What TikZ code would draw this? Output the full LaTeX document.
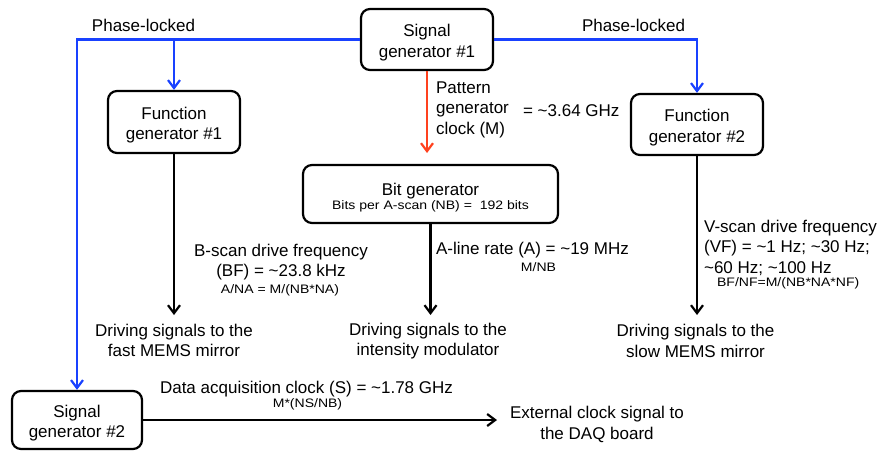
\documentclass[tikz,border=0pt]{standalone}
\usepackage{fontspec}
\setmainfont{Liberation Sans}
\newfontfamily\smallfont[FakeStretch=1.14]{Liberation Sans}
\usetikzlibrary{arrows.meta}
\newcommand{\apx}{\textasciitilde}
\newcommand{\lift}[1]{\rule{0pt}{#1pt}}
\definecolor{lockblue}{RGB}{25,65,255}
\definecolor{clockred}{RGB}{255,65,30}
\tikzset{
  box/.style={draw, rounded corners=9pt, align=center, inner sep=0pt},
  sml/.style={font=\smallfont\fontsize{12.3}{13.5}\selectfont}
}

\begin{document}
\begin{tikzpicture}[-{Straight Barb[length=8pt,width=12pt]}, x=1pt, y=-1pt, line width=2.2pt,
    inner sep=0pt, font=\fontsize{17}{20.5}\selectfont]
			\useasboundingbox (0,0) rectangle (881,450);
			\node (1) [box, minimum width=132, minimum height=61] at (427,39.5) {\lift{19}Signal\\generator \#1};
			\node (2) [box, minimum width=132, minimum height=62] at (174,122) {\lift{19}Function\\generator \#1};
			\node (3) [box, minimum width=132, minimum height=61] at (697,124.5) {\lift{19}Function\\generator \#2};
			\node (4) [box, minimum width=255, minimum height=58] at (430.5,194) {\lift{20}Bit generator\\[-6pt]{\smallfont\fontsize{12.3}{13.5}\selectfont Bits per A-scan (NB) = \ 192 bits}};
			\node (5) [box, minimum width=130, minimum height=58] at (77,420) {\lift{19}Signal\\generator \#2};

			\node (6) at (143.5,25) {Phase-locked};
			\node (7) at (633.5,25) {Phase-locked};
			\node (8) [anchor=west, align=left] at (435,109.5) {Pattern\\generator\\clock (M)};
			\node (9) [anchor=west] at (522,111) {= \apx3.64 GHz};
			\node (10) [align=center] at (281,262) {B-scan drive frequency\\(BF) = \apx23.8 kHz};
			\node (11) [sml] at (280,290) {A/NA = M/(NB*NA)};
			\node (12) [anchor=west] at (435,250) {A-line rate (A) = \apx19 MHz};
			\node (13) [sml] at (538.5,267) {M/NB};
			\node (14) [anchor=west, align=left] at (703,247.5) {V-scan drive frequency\\(VF) = \apx1 Hz; \apx30 Hz;\\\apx60 Hz; \apx100 Hz};
			\node (15) [sml, anchor=west] at (716,283) {BF/NF=M/(NB*NA*NF)};
			\node (16) [align=center] at (174,340.5) {Driving signals to the\\fast MEMS mirror};
			\node (17) [align=center] at (428,341) {Driving signals to the\\intensity modulator};
			\node (18) [align=center] at (695.5,341) {Driving signals to the\\slow MEMS mirror};
			\node (19) at (306.5,389) {Data acquisition clock (S) = \apx1.78 GHz};
			\node (20) [sml] at (307.5,404) {M*(NS/NB)};
			\node (21) [align=center] at (597,424.5) {External clock signal to\\the DAQ board};

			\coordinate (b2) at (2.north |- 1.west);
			\coordinate (e1) at (427,153);
			\coordinate (e2) at (174,315);
			\coordinate (e4) at (430.5,315);
			\coordinate (e3) at (697,315);
			\coordinate (e5) at (497,420);

			\draw[lockblue] (1.west) -| (5.north);
			\draw[lockblue] (1.east) -| (3.north);
			\path[lockblue]
			  (b2) edge (2.north);
			\path
			  (1) edge[clockred] (e1)
			  (2) edge (e2)
			  (4) edge (e4)
			  (3) edge (e3)
			  (5) edge (e5);

		  \end{tikzpicture}
\end{document}
